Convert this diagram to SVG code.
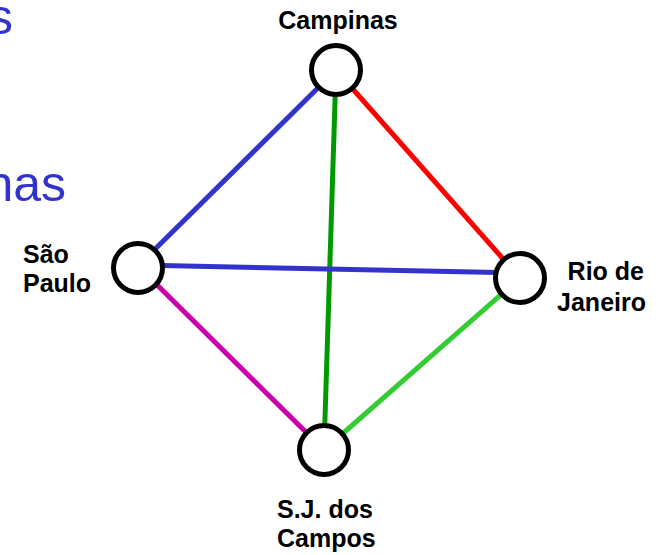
<svg xmlns="http://www.w3.org/2000/svg" width="662" height="555" viewBox="0 0 662 555">
<style>
.lbl{font-family:"Liberation Sans",Arial,sans-serif;font-weight:bold;font-size:25px;fill:#000}
.ttl{font-family:"Liberation Sans",Arial,sans-serif;font-size:50px;fill:#3333cc}
.node{fill:#fff;stroke:#000;stroke-width:5}
.e{stroke-width:5;fill:none}
</style>
<rect width="662" height="555" fill="#fff"/>
<text class="ttl" x="13" y="34" text-anchor="end">s</text>
<text class="ttl" x="66" y="201" text-anchor="end">nas</text>
<g id="connectors">
<line class="e" stroke="#3333cc" x1="336" y1="70" x2="138" y2="266"/>
<line class="e" stroke="#ff0000" x1="336" y1="70" x2="520" y2="278"/>
<line class="e" stroke="#009900" x1="336" y1="70" x2="324" y2="450"/>
<line class="e" stroke="#3333cc" x1="138" y1="265" x2="520" y2="273"/>
<line class="e" stroke="#cc00aa" x1="138" y1="266" x2="324" y2="450"/>
<line class="e" stroke="#33cc33" x1="520" y1="278" x2="324" y2="450"/>
</g>
<g id="campinas">
<circle class="node" cx="336" cy="70" r="24.5"/>
<text class="lbl" x="338" y="29" text-anchor="middle">Campinas</text>
</g>
<g id="sao-paulo">
<circle class="node" cx="138" cy="268" r="24.5"/>
<text class="lbl" x="23" y="263">São</text>
<text class="lbl" x="23" y="292">Paulo</text>
</g>
<g id="rio-de-janeiro">
<circle class="node" cx="520" cy="278" r="24.5"/>
<text class="lbl" x="644" y="280" text-anchor="end">Rio de</text>
<text class="lbl" x="646" y="311" text-anchor="end">Janeiro</text>
</g>
<g id="sj-dos-campos">
<circle class="node" cx="324" cy="450" r="24.5"/>
<text class="lbl" x="277" y="518">S.J. dos</text>
<text class="lbl" x="277" y="547">Campos</text>
</g>
</svg>
